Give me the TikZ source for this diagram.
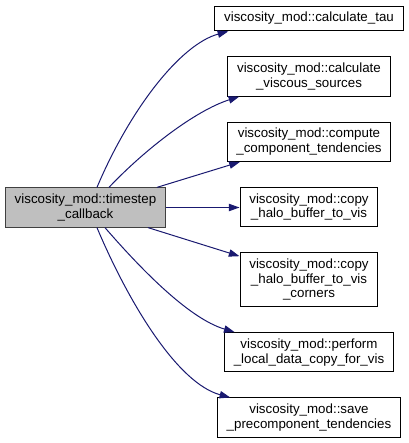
\documentclass[tikz,border=0pt]{standalone}
\usepackage{fontspec}
\setmainfont{Liberation Sans}
\usepackage{tikz}
\usetikzlibrary{positioning, arrows.meta}
\definecolor{edgeblue}{HTML}{191970}
\definecolor{callergray}{HTML}{BFBFBF}

\begin{document}
\begin{tikzpicture}[
  x=0.75pt, y=-0.75pt,
  node distance=18.75pt,
  font=\fontsize{10}{11}\selectfont,
  funcbox/.style={draw=black, line width=0.75pt, fill=white, align=center, inner xsep=7pt, inner ysep=4.6pt},
  callerbox/.style={funcbox, draw=black!75, fill=callergray},
  arrow/.style={edgeblue, line width=0.75pt, -{Triangle[length=8pt, width=5.5pt]}},
]
  \useasboundingbox (0,0) rectangle (408,443);

  % Caller
  \node (timestep) [callerbox] at (85.5,207.5) {viscosity\_mod::timestep\\\_callback};

  % Callee items
  \node (tau) [funcbox] at (309,18.5) {viscosity\_mod::calculate\_tau};
  \node (viscous) [funcbox, below=of tau] {viscosity\_mod::calculate\\\_viscous\_sources};
  \node (compute) [funcbox, below=of viscous] {viscosity\_mod::compute\\\_component\_tendencies};
  \node (halo) [funcbox, below=of compute] {viscosity\_mod::copy\\\_halo\_buffer\_to\_vis};
  \node (corners) [funcbox, below=of halo] {viscosity\_mod::copy\\\_halo\_buffer\_to\_vis\\\_corners};
  \node (perform) [funcbox, below=of corners] {viscosity\_mod::perform\\\_local\_data\_copy\_for\_vis};
  \node (save) [funcbox, below=of perform] {viscosity\_mod::save\\\_precomponent\_tendencies};

  % Calls going up
  \draw [arrow] ([xshift=8.6pt]timestep.north) .. controls +(33,-78) and +(-48,13) .. ([xshift=10.5pt]tau.south west);
  \draw [arrow] ([xshift=17.6pt]timestep.north) .. controls +(36,-38) and +(-44,14) .. ([xshift=9pt]viscous.south west);
  \draw [arrow] ([xshift=53.6pt]timestep.north) -- ([xshift=10pt]compute.south west);

  % Straight call
  \draw [arrow] (timestep.east) -- (timestep.east -| halo.west);

  % Calls going down
  \draw [arrow] ([xshift=46.9pt]timestep.south) -- ([yshift=-3pt]corners.north west);
  \draw [arrow] ([xshift=14.6pt]timestep.south) .. controls +(33,38) and +(-47,-14) .. ([xshift=8pt]perform.north west);
  \draw [arrow] ([xshift=8.6pt]timestep.south) .. controls +(33,78) and +(-52,-14) .. ([xshift=10pt]save.north west);

\end{tikzpicture}
\end{document}
